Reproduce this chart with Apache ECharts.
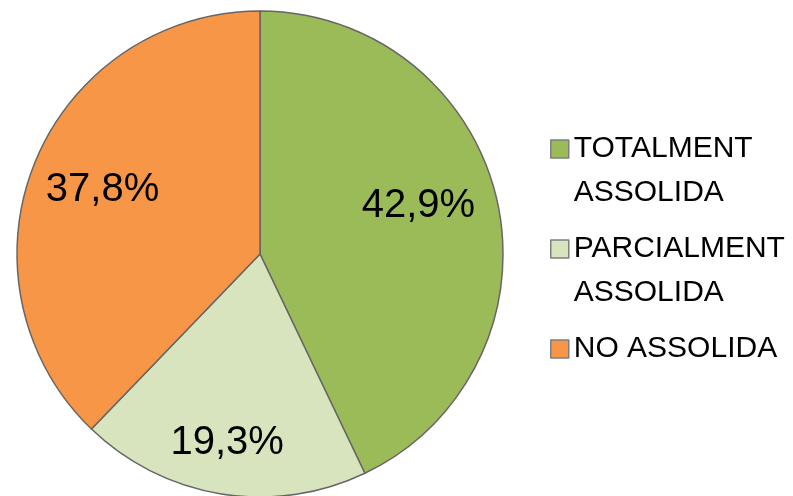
<!DOCTYPE html>
<html>
<head>
<meta charset="utf-8">
<script src="https://cdn.jsdelivr.net/npm/echarts@6/dist/echarts.min.js"></script>
<style>
  html, body { margin: 0; padding: 0; background: #fff; }
  #main { width: 793px; height: 496px; }
</style>
</head>
<body>
<div id="main"></div>
<script>
var categories = ['TOTALMENT ASSOLIDA', 'PARCIALMENT ASSOLIDA', 'NO ASSOLIDA'];
var values = [42.9, 19.3, 37.8];
var colors = ['#9BBB59', '#D7E4BD', '#F79646'];
// shift of each percentage label from the default inside spot
var labelOffsets = [[37, -20], [-13, 66], [-42, -17]];

var myChart = echarts.init(document.getElementById('main'));

var pieData = categories.map(function (name, i) {
    return {
        name: name,
        value: values[i],
        itemStyle: { color: colors[i] },
        label: { offset: labelOffsets[i] }
    };
});

var option = {
    animation: false,
    legend: {
        orient: 'vertical',
        left: 545,
        top: 78,
        itemWidth: 18,
        itemHeight: 18,
        itemGap: -32,
        icon: 'rect',
        data: categories,
        itemStyle: { borderColor: '#7f7f7f', borderWidth: 1.5 },
        // blank line on top so the square sits beside the first line
        formatter: function (name) {
            if (name === 'NO ASSOLIDA') {
                return ' \n' + name + '\n ';
            }
            return ' \n' + name.replace(' ', '\n');
        },
        textStyle: {
            fontFamily: 'Liberation Sans',
            fontSize: 30,
            lineHeight: 44,
            color: '#000'
        }
    },
    series: [{
        type: 'pie',
        center: [260, 254],
        radius: 243,
        startAngle: 90,
        clockwise: true,
        data: pieData,
        itemStyle: { borderColor: '#666', borderWidth: 1.5 },
        label: {
            position: 'inside',
            fontFamily: 'Liberation Sans',
            fontSize: 40,
            color: '#000',
            formatter: function (p) {
                return p.value.toFixed(1).replace('.', ',') + '%';
            }
        },
        labelLine: { show: false },
        emphasis: { disabled: true }
    }]
};

myChart.setOption(option);
</script>
</body>
</html>
